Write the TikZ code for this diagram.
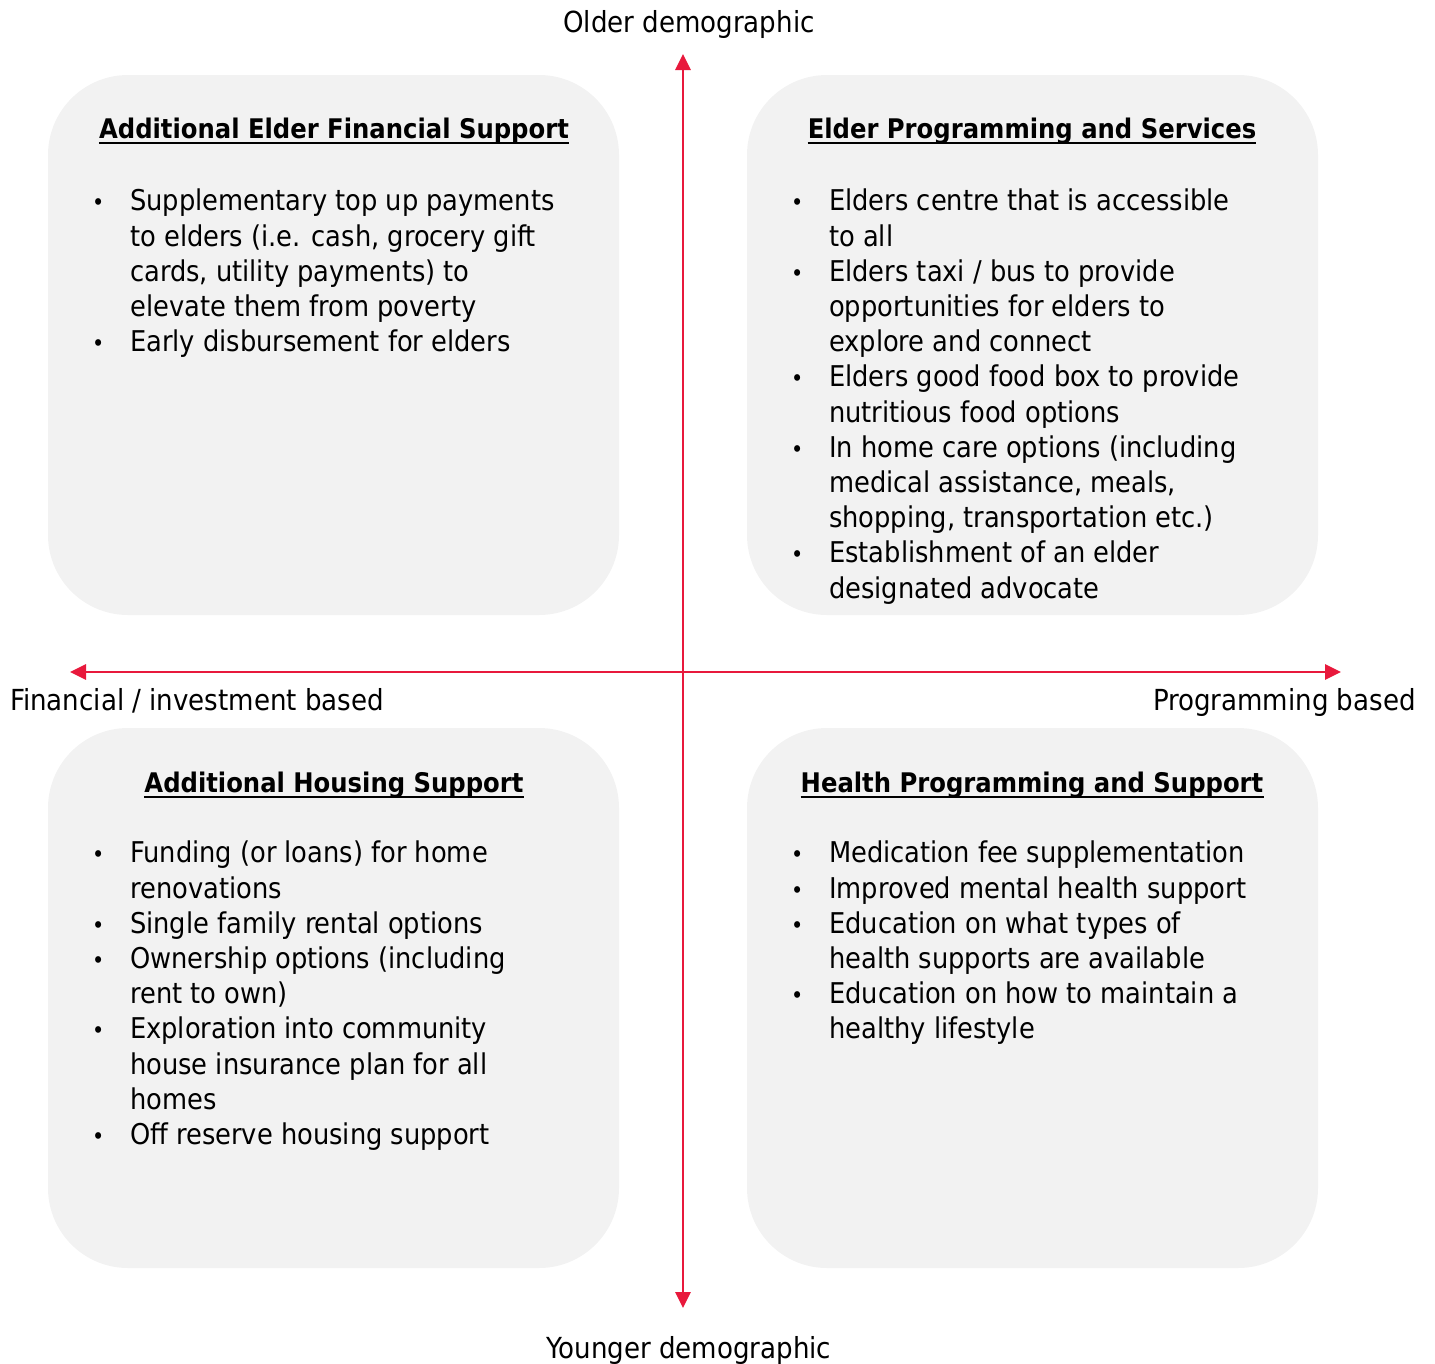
\documentclass[tikz,border=0pt]{standalone}
\usepackage{fontspec}
\setmainfont{DejaVu Sans Condensed}
\usetikzlibrary{arrows.meta}
\definecolor{axisred}{HTML}{E8193C}
\definecolor{boxgray}{HTML}{F2F2F2}
\newcommand{\bul}{{\fontsize{23}{23}\selectfont\textbullet}}
\tikzset{
  quad/.style={fill=boxgray, rounded corners=80pt, minimum width=571pt, minimum height=540pt, inner sep=0pt},
  head/.style={font=\fontsize{27}{34}\selectfont\bfseries, inner sep=0pt, anchor=base},
  list/.style={font=\fontsize{28.6}{35.2}\selectfont, inner sep=0pt, anchor=north west, align=left},
  axis/.style={draw=axisred, line width=2.8pt, {Triangle[length=16pt,width=15pt]}-{Triangle[length=16pt,width=15pt]}},
  axlabel/.style={font=\fontsize{29}{34}\selectfont, inner sep=0pt}
}
\begin{document}
\begin{tikzpicture}[x=1pt,y=-1pt]
  \useasboundingbox (0,0) rectangle (1435,1363);

  \begin{scope}[every node/.style={quad}]
    \node (q1) at (333.5,345)  {};
    \node (q2) at (1032.5,345) {};
    \node (q3) at (333.5,998)  {};
    \node (q4) at (1032.5,998) {};
  \end{scope}

  % axes
  \coordinate (up)    at (683,54);
  \coordinate (down)  at (683,1308);
  \coordinate (left)  at (70,672);
  \coordinate (right) at (1341,672);
  \path (down) edge[axis] (up);
  \path (left) edge[axis] (right);

  \node[axlabel, anchor=base] (older) at (689,32) {Older demographic};
  \node[axlabel, anchor=base] (younger) at (689,1358) {Younger demographic};
  \node[axlabel, anchor=base west] (fin) at (10,710) {Financial / investment based};
  \node[axlabel, anchor=base east] (prog) at (1416,710) {Programming based};

  % titles
  \node[head] (t1) at (334,138)  {Additional Elder Financial Support};
  \node[head] (t2) at (1032,138) {Elder Programming and Services};
  \node[head] (t3) at (334,792)  {Additional Housing Support};
  \node[head] (t4) at (1032,792) {Health Programming and Support};
  \foreach \t in {t1,t2,t3,t4}
    \draw[line width=2pt] ([yshift=-5pt]\t.base west) -- ([yshift=-5pt]\t.base east);

  % lists
  \node[list] (l1) at (92,186) {%
    \begin{tabular}{@{}p{38pt}@{}l@{}}
      \bul & Supplementary top up payments\\
           & to elders (i.e. cash, grocery gift\\
           & cards, utility payments) to\\
           & elevate them from poverty\\
      \bul & Early disbursement for elders
    \end{tabular}};
  \node[list] (l2) at (791,186) {%
    \begin{tabular}{@{}p{38pt}@{}l@{}}
      \bul & Elders centre that is accessible\\
           & to all\\
      \bul & Elders taxi / bus to provide\\
           & opportunities for elders to\\
           & explore and connect\\
      \bul & Elders good food box to provide\\
           & nutritious food options\\
      \bul & In home care options (including\\
           & medical assistance, meals,\\
           & shopping, transportation etc.)\\
      \bul & Establishment of an elder\\
           & designated advocate
    \end{tabular}};
  \node[list] (l3) at (92,838) {%
    \begin{tabular}{@{}p{38pt}@{}l@{}}
      \bul & Funding (or loans) for home\\
           & renovations\\
      \bul & Single family rental options\\
      \bul & Ownership options (including\\
           & rent to own)\\
      \bul & Exploration into community\\
           & house insurance plan for all\\
           & homes\\
      \bul & Off reserve housing support
    \end{tabular}};
  \node[list] (l4) at (791,838) {%
    \begin{tabular}{@{}p{38pt}@{}l@{}}
      \bul & Medication fee supplementation\\
      \bul & Improved mental health support\\
      \bul & Education on what types of\\
           & health supports are available\\
      \bul & Education on how to maintain a\\
           & healthy lifestyle
    \end{tabular}};
\end{tikzpicture}
\end{document}
